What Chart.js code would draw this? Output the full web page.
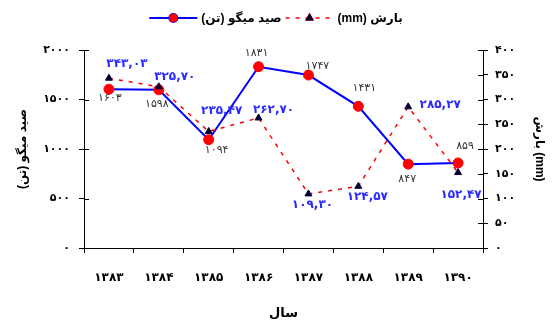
<!DOCTYPE html>
<html>
<head>
<meta charset="utf-8">
<script src="https://cdn.jsdelivr.net/npm/chart.js@4/dist/chart.umd.min.js"></script>
<style>
  html, body { margin: 0; padding: 0; background: #ffffff; }
  #wrap { width: 553px; height: 322px; position: relative; }
</style>
</head>
<body>
<div id="wrap"><canvas id="c"></canvas></div>
<script>
// Years (Solar Hijri) on the category axis
const years = [1383, 1384, 1385, 1386, 1387, 1388, 1389, 1390];
// Shrimp catch, tonnes (left axis)
const shrimpCatch = [1603, 1598, 1094, 1831, 1747, 1431, 847, 859];
// Rainfall, mm (right axis)
const rainfall = [343.03, 325.70, 235.47, 262.70, 109.30, 124.57, 285.27, 152.47];
// Axis tick values
const catchTicks = [0, 500, 1000, 1500, 2000];
const rainTicks = [0, 50, 100, 150, 200, 250, 300, 350, 400];

const FONT = "'DejaVu Sans', 'Noto Sans', sans-serif";
const TITLE_FONT = "'Liberation Sans', 'DejaVu Sans', sans-serif";
const FA_DIGITS = '۰۱۲۳۴۵۶۷۸۹';
const toFa = s => String(s).replace(/[0-9]/g, d => FA_DIGITS[+d]);

const RLE = '\u202B', PDF = '\u202C', RLM = '\u200F';
const catchLabel = 'صید میگو (تن)';
const rainLabel = 'بارش (mm)';

// Value labels drawn next to each point
const valueLabels = {
  id: 'valueLabels',
  afterDatasetsDraw(chart, args, opts) {
    const ctx = chart.ctx;
    opts.sets.forEach(cfg => {
      const di = cfg.dataset;
      const ds = chart.data.datasets[di];
      const meta = chart.getDatasetMeta(di);
      ctx.save();
      ctx.font = cfg.font;
      ctx.fillStyle = cfg.color;
      ctx.textAlign = 'center';
      ctx.textBaseline = 'middle';
      meta.data.forEach((pt, i) => {
        const [dx, dy] = cfg.offsets[i];
        ctx.fillText(cfg.format(ds.data[i]), pt.x + dx, pt.y + dy);
      });
      ctx.restore();
    });
  }
};

// Tick marks on the plot side of both value axes
const innerTicks = {
  id: 'innerTicks',
  beforeDatasetsDraw(chart) {
    const ctx = chart.ctx;
    ctx.save();
    ctx.strokeStyle = '#000';
    ctx.lineWidth = 1;
    [['y', 1], ['y1', -1]].forEach(([id, dir]) => {
      const s = chart.scales[id];
      const x = Math.round(dir === 1 ? s.right : s.left);
      s.ticks.forEach((t, i) => {
        const y = Math.round(s.getPixelForTick(i)) + 0.5;
        ctx.beginPath();
        ctx.moveTo(x, y);
        ctx.lineTo(x + dir * 5, y);
        ctx.stroke();
      });
    });
    ctx.restore();
  }
};

// Legend at the top: line sample with marker, then the series name
const topLegend = {
  id: 'topLegend',
  afterDraw(chart, args, opts) {
    const ctx = chart.ctx;
    const y = opts.y;
    const sample = 48, gap = 4, itemGap = 4;
    ctx.save();
    ctx.font = 'bold 12px ' + TITLE_FONT;
    ctx.direction = 'rtl';
    ctx.textBaseline = 'middle';
    ctx.textAlign = 'left';
    const items = opts.order.map(di => {
      const ds = chart.data.datasets[di];
      const text = RLE + ds.label + PDF;
      return { ds, text, w: ctx.measureText(text).width };
    });
    const total = items.reduce((a, it) => a + sample + gap + it.w, 0) + itemGap * (items.length - 1);
    let x = opts.cx - total / 2;
    items.forEach(it => {
      const ds = it.ds;
      ctx.save();
      ctx.strokeStyle = ds.borderColor;
      ctx.lineWidth = ds.borderWidth;
      ctx.setLineDash(ds.borderDash || []);
      ctx.beginPath();
      ctx.moveTo(x, y);
      ctx.lineTo(x + sample, y);
      ctx.stroke();
      ctx.setLineDash([]);
      const cx = x + sample / 2;
      Chart.helpers.drawPoint(ctx, {
        pointStyle: ds.pointStyle,
        radius: opts.markerRadius,
        borderWidth: 1,
        rotation: 0
      }, cx, y);
      ctx.fillStyle = ds.pointBackgroundColor;
      ctx.strokeStyle = ds.pointBorderColor;
      ctx.lineWidth = 1;
      ctx.fill();
      ctx.stroke();
      ctx.restore();
      ctx.fillStyle = '#000';
      ctx.fillText(it.text, x + sample + gap, y + 1);
      x += sample + gap + it.w + itemGap;
    });
    ctx.restore();
  }
};

new Chart(document.getElementById('c'), {
  type: 'line',
  data: {
    labels: years.map(toFa),
    datasets: [
      {
        label: catchLabel,
        data: shrimpCatch,
        yAxisID: 'y',
        borderColor: '#0000ff',
        borderWidth: 2,
        pointStyle: 'circle',
        pointRadius: 5,
        pointBackgroundColor: '#ff0000',
        pointBorderColor: '#ff0000',
        pointBorderWidth: 1,
        tension: 0,
        order: 1
      },
      {
        label: rainLabel,
        data: rainfall,
        yAxisID: 'y1',
        borderColor: '#ff0000',
        borderWidth: 1.5,
        borderDash: [4, 6],
        pointStyle: 'triangle',
        pointRadius: 4,
        pointBackgroundColor: '#000033',
        pointBorderColor: '#000033',
        pointBorderWidth: 1,
        tension: 0,
        order: 0
      }
    ]
  },
  options: {
    responsive: true,
    maintainAspectRatio: false,
    animation: false,
    events: [],
    layout: { padding: { top: 50, left: 0, right: 0, bottom: 0 } },
    plugins: {
      legend: { display: false },
      tooltip: { enabled: false },
      topLegend: { cx: 276, y: 18, order: [0, 1], markerRadius: 4 },
      valueLabels: {
        sets: [
          {
            dataset: 0,
            font: '11px ' + FONT,
            color: '#333333',
            format: v => toFa(v),
            offsets: [[1, 9], [-2, 14], [8, 10], [-2, -14], [9, -9], [6, -18], [-1, 15], [7, -17]]
          },
          {
            dataset: 1,
            font: 'bold 12px ' + FONT,
            color: '#2a2aff',
            format: v => toFa(v.toFixed(2).replace('.', ',')),
            offsets: [[18, -14], [16, -10], [13, -21], [15, -8], [4, 11], [9, 11], [32, -2], [3, 22]]
          }
        ]
      }
    },
    scales: {
      x: {
        type: 'category',
        offset: true,
        grid: { offset: true, drawOnChartArea: false, drawTicks: true, tickLength: 5, color: '#000', tickColor: '#000' },
        border: { display: true, color: '#000', width: 1 },
        ticks: { color: '#000', font: { family: FONT, size: 12, weight: 'bold' }, padding: 18, maxRotation: 0 },
        title: { display: true, text: 'سال', color: '#000', font: { family: TITLE_FONT, size: 13, weight: 'bold' }, padding: { top: 0, bottom: 1 } },
        afterFit(s) { s.height = 74; }
      },
      y: {
        type: 'linear',
        position: 'left',
        min: 0, max: 2000,
        afterBuildTicks(s) { s.ticks = catchTicks.map(v => ({ value: v })); },
        grid: { drawOnChartArea: false, drawTicks: true, tickLength: 5, color: '#000', tickColor: '#000' },
        border: { display: true, color: '#000', width: 1 },
        ticks: { color: '#000', font: { family: FONT, size: 11, weight: 'bold' }, padding: 9, callback: v => toFa(v) },
        title: { display: true, text: catchLabel + RLM, color: '#000', font: { family: TITLE_FONT, size: 12, weight: 'bold' }, padding: { top: 15, bottom: 0 } },
        afterFit(s) { s.width = 84; }
      },
      y1: {
        type: 'linear',
        position: 'right',
        min: 0, max: 400,
        afterBuildTicks(s) { s.ticks = rainTicks.map(v => ({ value: v })); },
        grid: { drawOnChartArea: false, drawTicks: true, tickLength: 5, color: '#000', tickColor: '#000' },
        border: { display: true, color: '#000', width: 1 },
        ticks: { color: '#000', font: { family: FONT, size: 11, weight: 'bold' }, padding: 7, callback: v => toFa(v) },
        title: { display: true, text: rainLabel, color: '#000', font: { family: TITLE_FONT, size: 12, weight: 'bold' }, padding: { top: 6, bottom: 0 } },
        afterFit(s) { s.width = 70; }
      }
    }
  },
  plugins: [innerTicks, valueLabels, topLegend]
});
</script>
</body>
</html>
